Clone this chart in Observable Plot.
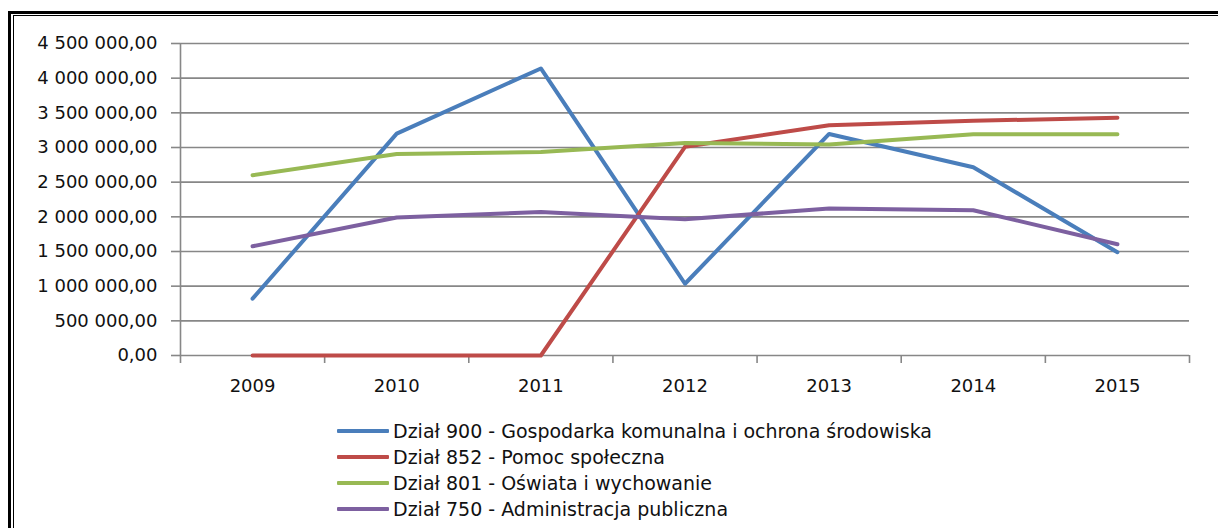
<!DOCTYPE html>
<html>
<head>
<meta charset="utf-8">
<script src="https://cdn.jsdelivr.net/npm/d3@7"></script>
<script src="https://cdn.jsdelivr.net/npm/@observablehq/plot@0.6"></script>
<style>
  html, body { margin: 0; padding: 0; background: #fff; width: 1218px; height: 528px; overflow: hidden; }
  #wrap { position: relative; width: 1218px; height: 528px; font-family: "DejaVu Sans", sans-serif; }
  .frame-outer { position: absolute; left: 8px; top: 11px; width: 1300px; height: 600px; border-left: 3px solid #000; border-top: 3px solid #000; pointer-events: none; }
  .frame-inner { position: absolute; left: 13px; top: 15px; width: 1300px; height: 600px; border-left: 1px solid #000; border-top: 1px solid #000; pointer-events: none; }
  #legend { position: absolute; left: 337px; top: 418px; }
  .row { display: flex; align-items: center; height: 26px; }
  .sw { width: 52px; height: 4px; margin-right: 4px; border-radius: 1px; }
  .lbl { font-size: 19px; color: #111; white-space: nowrap; }
</style>
</head>
<body>
<div id="wrap">
  <div id="chart"></div>
  <div id="legend"></div>
  <div class="frame-outer"></div>
  <div class="frame-inner"></div>
</div>
<script>
const years = [2009, 2010, 2011, 2012, 2013, 2014, 2015];
const seriesNames = [
  "Dział 900 - Gospodarka komunalna i ochrona środowiska",
  "Dział 852 - Pomoc społeczna",
  "Dział 801 - Oświata i wychowanie",
  "Dział 750 - Administracja publiczna"
];
const seriesColors = ["#4A7EBB", "#BE4B48", "#98B954", "#7D60A0"];
const dzial900 = [820000, 3200000, 4140000, 1035000, 3195000, 2715000, 1490000];
const dzial852 = [0, 0, 0, 3010000, 3320000, 3385000, 3430000];
const dzial801 = [2600000, 2905000, 2935000, 3065000, 3045000, 3190000, 3190000];
const dzial750 = [1575000, 1990000, 2070000, 1965000, 2120000, 2095000, 1605000];
const yTicks = [0, 500000, 1000000, 1500000, 2000000, 2500000, 3000000, 3500000, 4000000, 4500000];

const seriesValues = [dzial900, dzial852, dzial801, dzial750];
const data = [];
seriesValues.forEach((vals, i) => {
  vals.forEach((v, j) => data.push({ series: seriesNames[i], year: years[j], value: v }));
});

const fmt = d3.format(",.2f");
const plFormat = v => fmt(v).replace(/,/g, " ").replace(".", ",");

const boundaries = years.map(y => y - 0.5).concat([years[years.length - 1] + 0.5]);

const chart = Plot.plot({
  width: 1218,
  height: 405,
  marginLeft: 180,
  marginRight: 29,
  marginTop: 43,
  marginBottom: 50,
  style: { fontFamily: "'DejaVu Sans', sans-serif", fontSize: "18px", color: "#111", background: "transparent" },
  x: { domain: [years[0] - 0.5, years[years.length - 1] + 0.5] },
  y: { domain: [0, 4500000] },
  color: { domain: seriesNames, range: seriesColors },
  marks: [
    Plot.gridY(yTicks, { stroke: "#878787", strokeOpacity: 1, strokeWidth: 1.6 }),
    Plot.ruleX([boundaries[0]], { y1: 0, y2: 4500000, stroke: "#878787", strokeWidth: 1.6 }),
    Plot.axisY({ ticks: yTicks, tickSize: 9, tickPadding: 14, tickFormat: plFormat, stroke: "#878787", strokeWidth: 1.6, strokeOpacity: 1, label: null, fill: "#111" }),
    Plot.axisX({ ticks: boundaries, tickSize: 8, tickFormat: () => "", stroke: "#878787", strokeWidth: 1.6, strokeOpacity: 1, label: null }),
    Plot.axisX({ ticks: years, tickSize: 0, tickPadding: 24, tickFormat: d => String(d), label: null, fill: "#111" }),
    Plot.line(data, { x: "year", y: "value", z: "series", stroke: "series", strokeWidth: 4, strokeLinejoin: "round", strokeLinecap: "round" })
  ]
});
document.getElementById("chart").appendChild(chart);

const legend = document.getElementById("legend");
seriesNames.forEach((name, i) => {
  const row = document.createElement("div");
  row.className = "row";
  const sw = document.createElement("div");
  sw.className = "sw";
  sw.style.background = seriesColors[i];
  const lbl = document.createElement("span");
  lbl.className = "lbl";
  lbl.textContent = name;
  row.appendChild(sw);
  row.appendChild(lbl);
  legend.appendChild(row);
});
</script>
</body>
</html>
